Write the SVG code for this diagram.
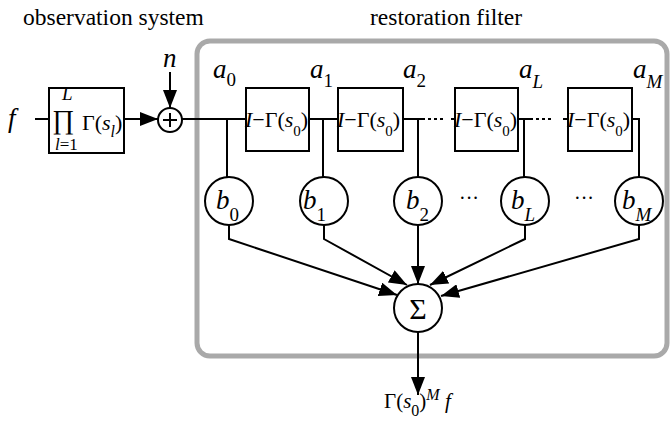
<svg xmlns="http://www.w3.org/2000/svg" width="670" height="429" viewBox="0 0 670 429" font-family="'Liberation Serif', 'DejaVu Serif', serif">
<style>
text{font-family:"Liberation Serif","DejaVu Serif",serif;fill:#000}
.it{font-style:italic}
.ln{fill:none;stroke:#000;stroke-width:2}
.bx{fill:#fff;stroke:#000;stroke-width:2}
.title{font-size:23.5px}
.lab{font-size:27px;font-style:italic}
.sub{font-size:19px}
.bt{font-size:22px}
.dot{fill:none;stroke:#000;stroke-width:2;stroke-dasharray:3 3}
</style>
<defs>
<marker id="ah" viewBox="0 0 18 14" refX="18" refY="7" markerWidth="18" markerHeight="14" markerUnits="userSpaceOnUse" orient="auto">
<path d="M0,0 L18,7 L0,14 z" fill="#000"/>
</marker>
</defs>
<rect id="frame" x="197" y="41" width="470" height="315" rx="13" fill="none" stroke="#a9a9a9" stroke-width="5"/>
<text class="title" x="23" y="25">observation system</text>
<text class="title" x="370" y="25">restoration filter</text>
<g id="connectors">
<path class="ln" d="M35,119 H49"/>
<path class="ln" d="M124,119 H158" marker-end="url(#ah)"/>
<path class="ln" d="M170,72 V108" marker-end="url(#ah)"/>
<path class="ln" d="M182,119 H246"/>
<path class="ln" d="M309,119 H338"/>
<path class="ln" d="M403,119 H425"/>
<path class="dot" d="M428,119 H446"/>
<path class="ln" d="M451,119 H455"/>
<path class="ln" d="M518,119 H533"/>
<path class="dot" d="M536,119 H554"/>
<path class="ln" d="M563,119 H568"/>
<path class="ln" d="M632,119 H639 V177"/>
<path class="ln" d="M227,119 V177"/>
<path class="ln" d="M323,119 V177"/>
<path class="ln" d="M418,119 V177"/>
<path class="ln" d="M524,119 V177"/>
<path class="ln" d="M229,225 V239 L397,295" marker-end="url(#ah)"/>
<path class="ln" d="M324,225 V239 L407,285" marker-end="url(#ah)"/>
<path class="ln" d="M418,225 V284" marker-end="url(#ah)"/>
<path class="ln" d="M525,225 V239 L430,285" marker-end="url(#ah)"/>
<path class="ln" d="M639,225 V239 L441,296" marker-end="url(#ah)"/>
<path class="ln" d="M418,332 V395" marker-end="url(#ah)"/>
</g>
<g id="input"><text class="lab" x="8" y="127" font-size="24">f</text></g>
<g id="noise"><text class="lab" x="163" y="67">n</text></g>
<g id="obs">
<rect class="bx" x="49" y="88" width="75" height="65"/>
<text x="52" y="129" font-size="27">∏</text>
<text x="62" y="100" font-size="19" class="it">L</text>
<text x="55" y="150" font-size="17"><tspan class="it">l</tspan>=1</text>
<text x="82" y="130" class="bt">Γ(<tspan class="it">s</tspan><tspan class="it" font-size="16" dy="7">l</tspan><tspan dy="-7">)</tspan></text>
</g>
<g id="adder">
<circle class="bx" cx="170" cy="120" r="12"/>
<path class="ln" d="M163,120 H177 M170,113 V127" stroke-width="1.5"/>
</g>
<g id="d1"><rect class="bx" x="246" y="88" width="63" height="63"/>
<text class="bt" x="245" y="127"><tspan class="it">I</tspan>−Γ(<tspan class="it">s</tspan><tspan font-size="15" dy="9">0</tspan><tspan dy="-9">)</tspan></text></g>
<g id="d2"><rect class="bx" x="338" y="88" width="65" height="63"/>
<text class="bt" x="337" y="127"><tspan class="it">I</tspan>−Γ(<tspan class="it">s</tspan><tspan font-size="15" dy="9">0</tspan><tspan dy="-9">)</tspan></text></g>
<g id="dL"><rect class="bx" x="455" y="88" width="63" height="63"/>
<text class="bt" x="454" y="127"><tspan class="it">I</tspan>−Γ(<tspan class="it">s</tspan><tspan font-size="15" dy="9">0</tspan><tspan dy="-9">)</tspan></text></g>
<g id="dM"><rect class="bx" x="568" y="88" width="64" height="63"/>
<text class="bt" x="567" y="127"><tspan class="it">I</tspan>−Γ(<tspan class="it">s</tspan><tspan font-size="15" dy="9">0</tspan><tspan dy="-9">)</tspan></text></g>
<g id="labels-a">
<text class="lab" x="213" y="78">a<tspan class="sub" font-style="normal" dy="8">0</tspan></text>
<text class="lab" x="310" y="78">a<tspan class="sub" font-style="normal" dy="9">1</tspan></text>
<text class="lab" x="403" y="78">a<tspan class="sub" font-style="normal" dy="9">2</tspan></text>
<text class="lab" x="519" y="78">a<tspan class="sub" dy="10">L</tspan></text>
<text class="lab" x="633" y="78">a<tspan class="sub" dy="10">M</tspan></text>
</g>
<g id="b0"><circle class="bx" cx="229" cy="201" r="24"/><text class="lab" x="216" y="209">b<tspan class="sub" font-style="normal" dy="12">0</tspan></text></g>
<g id="b1"><circle class="bx" cx="324" cy="201" r="24"/><text class="lab" x="303" y="209">b<tspan class="sub" font-style="normal" dy="12">1</tspan></text></g>
<g id="b2"><circle class="bx" cx="418" cy="201" r="24"/><text class="lab" x="406" y="209">b<tspan class="sub" font-style="normal" dy="12">2</tspan></text></g>
<g id="bL"><circle class="bx" cx="525" cy="201" r="24"/><text class="lab" x="511" y="209">b<tspan class="sub" dy="12">L</tspan></text></g>
<g id="bM"><circle class="bx" cx="639" cy="201" r="24"/><text class="lab" x="622" y="209">b<tspan class="sub" dy="12">M</tspan></text></g>
<text x="459" y="205" font-size="20">···</text>
<text x="574" y="205" font-size="20">···</text>
<g id="sum"><circle class="bx" cx="418" cy="308" r="24"/><text x="418" y="319" font-size="30" text-anchor="middle">Σ</text></g>
<g id="output"><text x="384" y="408" font-size="21">Γ(<tspan class="it">s</tspan><tspan font-size="16" dy="8">0</tspan><tspan dy="-8">)</tspan><tspan class="it" font-size="16" dy="-8">M</tspan><tspan class="it" dy="8"> f</tspan></text></g>
</svg>
